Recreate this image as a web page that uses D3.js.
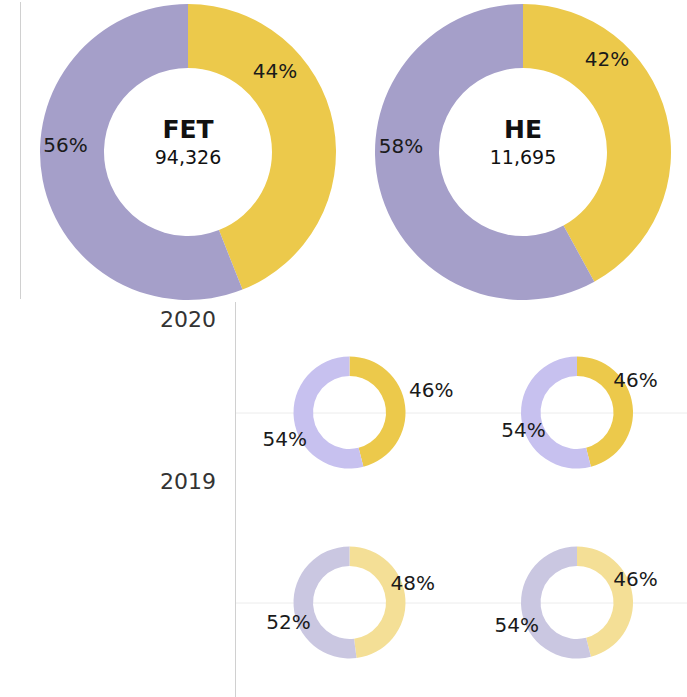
<!DOCTYPE html>
<html>
<head>
<meta charset="utf-8">
<script src="https://cdn.jsdelivr.net/npm/d3@7"></script>
<style>
  body { margin: 0; background: #fff; }
  svg { display: block; font-family: "DejaVu Sans", sans-serif; }
</style>
</head>
<body>
<svg id="chart" width="687" height="697"></svg>
<script>
// top sheet: share of each group (yellow first, clockwise from 12 o'clock)
var groups = ["FET", "HE"];
var totals = [94326, 11695];
var topYellow = [44, 42];
var topPurple = [56, 58];

// bottom sheet: same split for previous years
var years = ["2020", "2019"];
var yellow2020 = [46, 46];
var purple2020 = [54, 54];
var yellow2019 = [48, 46];
var purple2019 = [52, 54];

var svg = d3.select("#chart");
var pie = d3.pie().sort(null).value(d => d);

// label spots, as fractions of outer radius, relative to donut centre (baseline)
var bigLabelAt = [
	[[0.588, -0.5], [-0.828, 0.0]],
	[[0.568, -0.58], [-0.824, 0.007]]
];
var smallLabelAt = [
	[[[1.46, -0.28], [-1.155, 0.6]], [[1.045, -0.455], [-0.955, 0.4375]]],
	[[[1.13, -0.22], [-1.09, 0.47]], [[1.045, -0.295], [-1.077, 0.527]]]
];

function donut(g, vals, rOut, rIn, colors, labelAt, fontSize) {
	var arc = d3.arc().innerRadius(rIn).outerRadius(rOut);
	g.selectAll("path")
	.data(pie(vals))
	.enter()
	.append("path")
	.attr("d", arc)
	.style("fill", (d, i) => colors[i]);
	g.selectAll("text.pct")
	.data(vals)
	.enter()
	.append("text")
	.attr("class", "pct")
	.attr("x", (d, i) => labelAt[i][0] * rOut)
	.attr("y", (d, i) => labelAt[i][1] * rOut)
	.attr("text-anchor", "middle")
	.style("font-size", fontSize + "px")
	.style("fill", "#1a1a1a")
	.text(d => d + "%");
}

// ---- top sheet ----
var xTop = d3.scalePoint().domain(groups).range([188, 523]);
svg.append("line")
	.attr("x1", 20.5).attr("x2", 20.5).attr("y1", 2).attr("y2", 299)
	.style("stroke", "#d0d0d0").style("stroke-width", 1);

groups.forEach(function(name, i) {
	var g = svg.append("g").attr("transform", "translate(" + xTop(name) + ",152)");
	donut(g, [topYellow[i], topPurple[i]], 148, 84, ["#ecc94b", "#a59fc9"], bigLabelAt[i], 20);
	g.append("text")
	.attr("y", -14)
	.attr("text-anchor", "middle")
	.style("font-size", "25px")
	.style("font-weight", "bold")
	.style("fill", "#111")
	.text(name);
	g.append("text")
	.attr("y", 12)
	.attr("text-anchor", "middle")
	.style("font-size", "19px")
	.style("fill", "#111")
	.text(d3.format(",")(totals[i]));
});

// ---- bottom sheet ----
var xCol = d3.scalePoint().domain(groups).range([349.5, 577]);
var yRow = d3.scalePoint().domain(years).range([412.5, 602.5]);
var yHead = d3.scalePoint().domain(years).range([327, 489]);
var rowYellow = [yellow2020, yellow2019];
var rowPurple = [purple2020, purple2019];
var rowColors = [["#ecc94b", "#c7c1ef"], ["#f4df96", "#cac7e1"]];

svg.append("line")
	.attr("x1", 235.5).attr("x2", 235.5).attr("y1", 302).attr("y2", 697)
	.style("stroke", "#d0d0d0").style("stroke-width", 1);

svg.selectAll("line.grid")
	.data(years)
	.enter()
	.append("line")
	.attr("class", "grid")
	.attr("x1", 236).attr("x2", 687)
	.attr("y1", d => yRow(d) + 0.5).attr("y2", d => yRow(d) + 0.5)
	.style("stroke", "#ececec").style("stroke-width", 1);

svg.selectAll("text.year")
	.data(years)
	.enter()
	.append("text")
	.attr("class", "year")
	.attr("x", 216)
	.attr("y", d => yHead(d))
	.attr("text-anchor", "end")
	.style("font-size", "22px")
	.style("fill", "#333")
	.text(d => d);

years.forEach(function(yr, r) {
	groups.forEach(function(name, i) {
		var g = svg.append("g").attr("transform", "translate(" + xCol(name) + "," + yRow(yr) + ")");
		donut(g, [rowYellow[r][i], rowPurple[r][i]], 56, 36.5, rowColors[r], smallLabelAt[r][i], 20);
	});
});
</script>
</body>
</html>
